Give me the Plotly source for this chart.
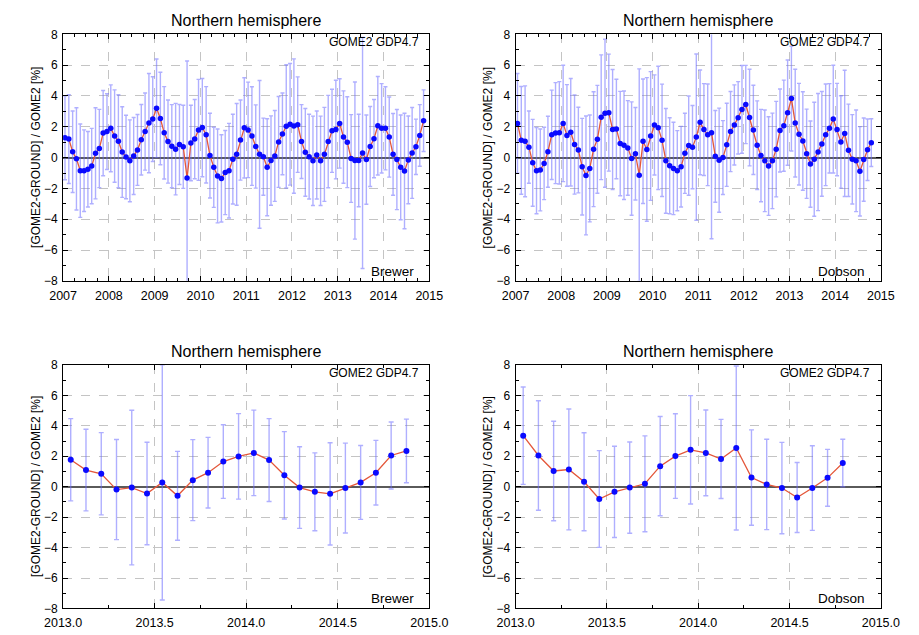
import plotly.graph_objects as go

# Monthly mean relative differences (GOME2 GDP4.7 vs ground networks), Northern hemisphere
brewer_start = 2007
brewer_full = [
    1.29, 1.2, 0.38, -0.08, -0.85, -0.85, -0.76, -0.55, 0.28, 0.59, 1.59, 1.69,
    1.9, 1.4, 1.06, 0.36, 0.04, -0.21, 0.1, 0.5, 1.16, 1.69, 2.24, 2.5,
    3.2, 2.54, 1.61, 1.04, 0.74, 0.55, 0.85, 0.7, -1.33, 0.95, 1.2, 1.8,
    1.95, 1.48, 0.13, -0.63, -1.19, -1.35, -0.97, -0.85, -0.1, 0.21, 1.14, 1.93,
    1.8, 1.4, 0.72, 0.21, 0.06, -0.63, -0.19, 0.11, 1.02, 1.54, 2.03, 2.16,
    2.05, 2.14, 1.04, 0.34, 0.06, -0.21, 0.17, -0.21, 0.21, 1.04, 1.74, 1.82,
    2.22, 1.33, 1.0, -0.06, -0.19, -0.19, 0.3, -0.13, 0.72, 1.23, 2.07, 1.9,
    1.9, 1.33, 0.21, -0.13, -0.63, -0.87, -0.15, 0.3, 0.7, 1.44, 2.4,
]
brewer_full_err = [
    2.73, 2.88, 2.65, 3.32, 3.03, 2.65, 2.45, 2.45, 2.96, 2.54, 2.77, 2.46,
    2.82, 3.0, 3.02, 2.94, 2.71, 2.66, 2.5, 2.3, 2.29, 2.5, 3.22, 2.75,
    3.2, 3.0, 3.0, 2.7, 2.7, 2.97, 2.6, 2.7, 7.6, 2.45, 2.57, 3.28,
    3.19, 3.13, 2.75, 2.6, 3.05, 2.83, 2.73, 3.07, 2.91, 3.3, 2.6, 3.25,
    3.1, 3.2, 2.7, 4.8, 2.5, 3.15, 2.9, 2.95, 2.95, 2.65, 4.0, 3.95,
    4.36, 3.1, 2.4, 2.85, 2.75, 2.9, 2.86, 2.9, 3.05, 3.0, 2.7, 3.2,
    2.9, 3.0, 2.95, 2.85, 5.1, 3.0, 7.5, 2.9, 2.6, 2.54, 3.2, 2.9,
    2.7, 2.6, 2.65, 3.25, 3.4, 3.75, 2.85, 2.95, 1.8, 2.0, 2.0,
]

dobson_start = 2007
dobson_full = [
    2.22, 1.12, 1.06, 0.68, -0.34, -0.85, -0.8, -0.38, 0.38, 1.48, 1.59, 1.61,
    2.22, 1.44, 1.65, 0.85, 0.49, -0.59, -1.16, -0.7, 0.55, 1.19, 2.62, 2.88,
    2.92, 1.82, 1.86, 0.91, 0.8, 0.63, -0.06, 0.25, -1.14, 1.06, 0.53, 1.4,
    2.12, 1.93, 1.12, -0.21, -0.53, -0.7, -0.85, -0.59, 0.28, 0.78, 0.68, 1.33,
    2.29, 1.82, 1.48, 1.61, 0.08, -0.17, 0.0, 0.83, 1.69, 2.12, 2.58, 3.13,
    3.45, 2.6, 1.8, 0.8, 0.13, -0.21, -0.55, -0.21, 0.55, 1.76, 2.07, 2.92,
    3.83, 2.24, 1.52, 1.08, 0.25, -0.42, -0.11, 0.36, 0.89, 1.48, 1.9, 2.5,
    1.82, 1.02, 1.57, 0.47, -0.11, -0.21, -0.89, -0.13, 0.51, 0.97,
]
dobson_full_err = [
    3.24, 3.5, 3.6, 2.35, 2.82, 2.8, 2.66, 2.35, 2.3, 2.9, 3.28, 3.32,
    3.78, 3.3, 3.49, 3.22, 2.78, 3.14, 3.86, 3.47, 3.73, 3.5, 4.05, 4.8,
    3.8, 3.9, 3.23, 3.39, 3.52, 3.07, 3.68, 3.0, 6.9, 4.04, 4.66, 4.18,
    3.25, 4.0, 3.65, 3.4, 3.12, 3.0, 2.6, 2.62, 2.6, 3.22, 2.7, 5.4,
    3.4, 2.98, 3.3, 6.88, 2.98, 3.38, 2.4, 2.7, 2.6, 2.6, 2.35, 2.85,
    2.54, 3.14, 2.9, 2.88, 3.0, 3.3, 3.2, 3.1, 3.1, 2.69, 2.96, 3.42,
    3.4, 3.5, 3.3, 3.2, 2.9, 2.8, 3.7, 3.8, 3.4, 3.3, 2.9, 3.5,
    3.0, 3.0, 4.1, 3.0, 2.9, 3.3, 2.9, 2.7, 2.0, 1.55,
]

# 2013-2014 close-up
brewer_sub_start = 2013
brewer_sub = [
    1.77, 1.09, 0.85, -0.19, -0.06, -0.45, 0.28, -0.6, 0.43, 0.92, 1.65, 1.99,
    2.22, 1.75, 0.75, -0.06, -0.34, -0.47, -0.09, 0.28, 0.92, 2.05, 2.35,
]
brewer_sub_err = [
    2.7, 2.68, 2.7, 3.29, 5.08, 3.37, 7.73, 2.92, 2.66, 2.32, 2.42, 2.81,
    2.81, 2.72, 2.87, 2.68, 2.56, 3.36, 2.95, 2.43, 2.12, 2.2, 2.09,
]
dobson_sub_start = 2013
dobson_sub = [
    3.35, 2.05, 1.03, 1.13, 0.32, -0.81, -0.34, -0.06, 0.19, 1.35, 2.01, 2.42,
    2.22, 1.82, 2.54, 0.6, 0.15, -0.09, -0.71, -0.09, 0.58, 1.56,
]
dobson_sub_err = [
    3.2, 3.6, 3.27, 3.97, 3.22, 3.18, 3.0, 3.0, 3.15, 3.26, 2.78, 3.56,
    2.82, 2.6, 5.39, 3.13, 2.97, 3.0, 2.3, 2.78, 1.87, 1.56,
]

panel_title = "Northern hemisphere"
product_label = "GOME2 GDP4.7"
y_label = "[GOME2-GROUND] / GOME2 [%]"

W, H = 919, 635
FONT = "Liberation Sans, Arial, Helvetica, sans-serif"
LINE_COLOR = "#e4573a"
MARKER_COLOR = "#0a0aff"
ERR_COLOR = "rgba(110,110,255,0.55)"


def months(start_year, n):
    return [start_year + (i + 0.5) / 12.0 for i in range(n)]


def px_x(p):
    return p / W


def px_y(p):
    return 1 - p / H


# plot-area boxes in pixels: (left, right, top, bottom)
boxes = [
    (46, 428, 28, 280),
    (518, 899, 28, 280),
    (46, 428, 366, 615),
    (518, 899, 366, 615),
]

panels = [
    dict(x=months(brewer_start, len(brewer_full)), y=brewer_full, e=brewer_full_err,
         net="Brewer", xr=[2007, 2015], dt=1, fmt="d", cap=2, msize=5.5),
    dict(x=months(dobson_start, len(dobson_full)), y=dobson_full, e=dobson_full_err,
         net="Dobson", xr=[2007, 2015], dt=1, fmt="d", cap=2, msize=5.5),
    dict(x=months(brewer_sub_start, len(brewer_sub)), y=brewer_sub, e=brewer_sub_err,
         net="Brewer", xr=[2013, 2015], dt=0.5, fmt=".1f", cap=2.5, msize=6),
    dict(x=months(dobson_sub_start, len(dobson_sub)), y=dobson_sub, e=dobson_sub_err,
         net="Dobson", xr=[2013, 2015], dt=0.5, fmt=".1f", cap=2.5, msize=6),
]

fig = go.Figure()
annotations = []
layout_axes = {}

for i, (p, box) in enumerate(zip(panels, boxes), start=1):
    sfx = "" if i == 1 else str(i)
    xa, ya = "x" + sfx, "y" + sfx
    left, right, top, bottom = box

    # error bars underneath the curve
    fig.add_trace(go.Scatter(
        x=p["x"], y=p["y"], xaxis=xa, yaxis=ya, mode="markers",
        marker=dict(size=1, color="rgba(0,0,0,0)"),
        error_y=dict(type="data", array=p["e"], visible=True, color=ERR_COLOR,
                     thickness=1.4, width=p["cap"]),
        showlegend=False, hoverinfo="skip", cliponaxis=True,
    ))
    fig.add_trace(go.Scatter(
        x=p["x"], y=p["y"], xaxis=xa, yaxis=ya, mode="lines+markers",
        line=dict(color=LINE_COLOR, width=1.3),
        marker=dict(color=MARKER_COLOR, size=p["msize"], symbol="circle"),
        showlegend=False,
    ))

    layout_axes["xaxis" + sfx] = dict(
        domain=[px_x(left), px_x(right)], anchor=ya, range=p["xr"],
        dtick=p["dt"], tick0=p["xr"][0], tickformat=p["fmt"],
        ticks="inside", ticklen=5, tickcolor="black", tickwidth=1,
        showline=True, linecolor="black", linewidth=1, mirror="allticks",
        showgrid=True, gridcolor="#c4c4c4", griddash="dash", gridwidth=1,
        minor=dict(dtick=0.25, tick0=p["xr"][0], ticks="inside", ticklen=3,
                   tickcolor="black", showgrid=False),
        zeroline=False, tickfont=dict(family=FONT, size=12.5, color="black"),
        ticklabelstandoff=3,
        fixedrange=True,
    )
    layout_axes["yaxis" + sfx] = dict(
        domain=[px_y(bottom), px_y(top)], anchor=xa, range=[-8, 8],
        dtick=2, tick0=0,
        ticks="inside", ticklen=5, tickcolor="black", tickwidth=1,
        showline=True, linecolor="black", linewidth=1, mirror="allticks",
        showgrid=True, gridcolor="#c4c4c4", griddash="dash", gridwidth=1,
        minor=dict(dtick=1, ticks="inside", ticklen=3, tickcolor="black",
                   showgrid=False),
        zeroline=True, zerolinecolor="#5a5a5a", zerolinewidth=1.5,
        tickfont=dict(family=FONT, size=12, color="black"),
        ticklabelstandoff=2,
        fixedrange=True,
    )

    cx = (left + right) / 2
    annotations.append(dict(
        text=panel_title, x=px_x(cx), y=px_y(top - 14), xref="paper", yref="paper",
        xanchor="center", yanchor="middle", showarrow=False,
        font=dict(family=FONT, size=16, color="black"),
    ))
    annotations.append(dict(
        text=product_label, x=px_x(right - 9), y=px_y(top + 8), xref="paper", yref="paper",
        xanchor="right", yanchor="middle", showarrow=False,
        font=dict(family=FONT, size=12, color="black"),
    ))
    annotations.append(dict(
        text=p["net"], x=px_x(right - 14), y=px_y(bottom - 10), xref="paper", yref="paper",
        xanchor="right", yanchor="middle", showarrow=False,
        font=dict(family=FONT, size=13.5, color="black"),
    ))
    annotations.append(dict(
        text=y_label, x=px_x(left - 29), y=px_y((top + bottom) / 2), xref="paper",
        yref="paper", xanchor="center", yanchor="middle", textangle=-90,
        showarrow=False, font=dict(family=FONT, size=12, color="black"),
    ))

fig.update_layout(
    width=W, height=H,
    margin=dict(l=0, r=0, t=0, b=0),
    paper_bgcolor="white", plot_bgcolor="white",
    annotations=annotations,
    showlegend=False,
    **layout_axes,
)

fig.write_html("out.html", config={"displayModeBar": False})
